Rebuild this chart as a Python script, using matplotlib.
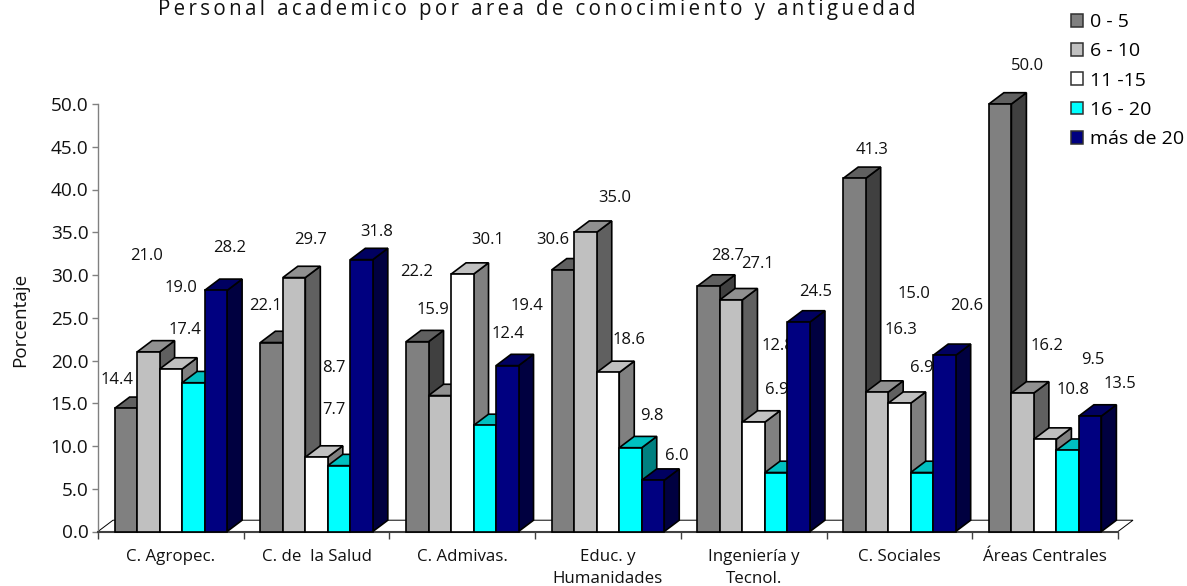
import numpy as np
import matplotlib
matplotlib.use('Agg')
import matplotlib.pyplot as plt
from matplotlib.patches import Polygon, Patch

plt.rcParams['font.family'] = ['Open Sans', 'DejaVu Sans']

# Datos
categorias = ['C. Agropec.', 'C. de  la Salud', 'C. Admivas.', 'Educ. y\nHumanidades',
              'Ingeniería y\nTecnol.', 'C. Sociales', 'Áreas Centrales']
series = ['0 - 5', '6 - 10', '11 -15', '16 - 20', 'más de 20']
ant_0_5 = [14.4, 22.1, 22.2, 30.6, 28.7, 41.3, 50.0]
ant_6_10 = [21.0, 29.7, 15.9, 35.0, 27.1, 16.3, 16.2]
ant_11_15 = [19.0, 8.7, 30.1, 18.6, 12.8, 15.0, 10.8]
ant_16_20 = [17.4, 7.7, 12.4, 9.8, 6.9, 6.9, 9.5]
ant_mas_20 = [28.2, 31.8, 19.4, 6.0, 24.5, 20.6, 13.5]
valores = [ant_0_5, ant_6_10, ant_11_15, ant_16_20, ant_mas_20]

# Colores: frente, arriba, lado
colores = [('#808080', '#606060', '#404040'),
           ('#c0c0c0', '#909090', '#606060'),
           ('#ffffff', '#c0c0c0', '#808080'),
           ('#00ffff', '#00c0c0', '#008080'),
           ('#000080', '#000060', '#000040')]

# Posicion de las etiquetas en pixeles (puestas a mano en el original)
etiq_x = [[117, 265, 417, 553, 728, 872, 1028],
          [147, 311, 433, 615, 758, 901, 1047],
          [181, 334, 488, 629, 778, 914, 1073],
          [185, 334, 508, 652, 777, 922, 1093],
          [230, 377, 527, 677, 816, 967, 1120]]
etiq_y = [[379, 305, 271, 239, 254, 148, 65],
          [254, 238, 308, 197, 262, 329, 344],
          [286, 366, 238, 338, 345, 293, 389],
          [329, 409, 333, 415, 389, 367, 359],
          [246, 231, 304, 454, 290, 305, 383]]

W, H = 1187, 586
fig = plt.figure(figsize=(W / 100, H / 100), dpi=100)
ax = fig.add_axes([98 / W, 1 - 531.5 / H, (1118 - 98) / W, (531.5 - 104) / H])
ax.set_xlim(0, 7)
ax.set_ylim(0, 50)

# profundidad del efecto 3D
dx = 15 / (1020 / 7)
dy = 11.3 / (427.5 / 50)
ancho = 0.1544

# piso
ax.add_patch(Polygon([(0, 0), (dx, dy), (7 + dx, dy), (7, 0)], closed=True, fc='white',
                     ec='black', lw=0.7, clip_on=False, zorder=1))

z = 3
for i in range(len(categorias)):
    x0 = i + 0.5 - 2.5 * ancho
    for s in range(len(series)):
        v = valores[s][i]
        x = x0 + s * ancho
        frente, arriba, lado = colores[s]
        estilo = dict(ec='black', lw=1.2, clip_on=False, joinstyle='miter')
        ax.add_patch(Polygon([(x + ancho, 0), (x + ancho + dx, dy), (x + ancho + dx, v + dy), (x + ancho, v)],
                             closed=True, fc=lado, zorder=z, **estilo))
        ax.add_patch(Polygon([(x, v), (x + dx, v + dy), (x + ancho + dx, v + dy), (x + ancho, v)],
                             closed=True, fc=arriba, zorder=z + 0.1, **estilo))
        ax.add_patch(Polygon([(x, 0), (x, v), (x + ancho, v), (x + ancho, 0)],
                             closed=True, fc=frente, zorder=z + 0.2, **estilo))
        z += 1
        ax.text(etiq_x[s][i] / W, 1 - (etiq_y[s][i] + 1.5) / H, f'{v:.1f}', transform=fig.transFigure,
                ha='center', va='center', fontsize=12, color='#111111', zorder=2, clip_on=False)

for lado_ax in ['top', 'right']:
    ax.spines[lado_ax].set_visible(False)
ax.spines['left'].set_color('#808080')
ax.spines['left'].set_linewidth(1.0)
ax.spines['bottom'].set_color('#404040')
ax.spines['bottom'].set_linewidth(1.5)

ax.set_yticks(np.arange(0, 55, 5))
ax.set_yticklabels([f'{t:.1f}' for t in np.arange(0, 55, 5)], fontsize=13.7, color='#111111')
ax.tick_params(axis='y', length=4, width=1, color='#808080', pad=3)
ax.set_xticks(np.arange(8))
ax.set_xticklabels([])
ax.tick_params(axis='x', which='major', length=5, width=1, color='#404040')
ax.set_xticks(np.arange(7) + 0.5, minor=True)
ax.set_xticklabels(categorias, minor=True, fontsize=12.2, color='#111111', linespacing=1.5)
ax.tick_params(axis='x', which='minor', length=0, pad=12.5)

fig.text(20 / W, 1 - 320 / H, 'Porcentaje', rotation=90, ha='center', va='center', fontsize=13.6, color='#111111')

titulo = 'Personal academico por area de conocimiento y antiguedad'
fig.text(537 / W, 1 - 9 / H, '\u2009'.join(titulo), ha='center', va='center', fontsize=14.8, color='#111111')

handles = [Patch(fc=colores[s][0], ec='#303030', lw=1.1) for s in range(len(series))]
ax.legend(handles, series, loc='upper left', bbox_to_anchor=(1071 / W, 1 - 13 / H), bbox_transform=fig.transFigure,
          frameon=False, fontsize=14, handlelength=0.64, handleheight=0.64, handletextpad=0.36,
          labelspacing=0.58, borderpad=0, borderaxespad=0)

fig.savefig('out.png', dpi=100)
